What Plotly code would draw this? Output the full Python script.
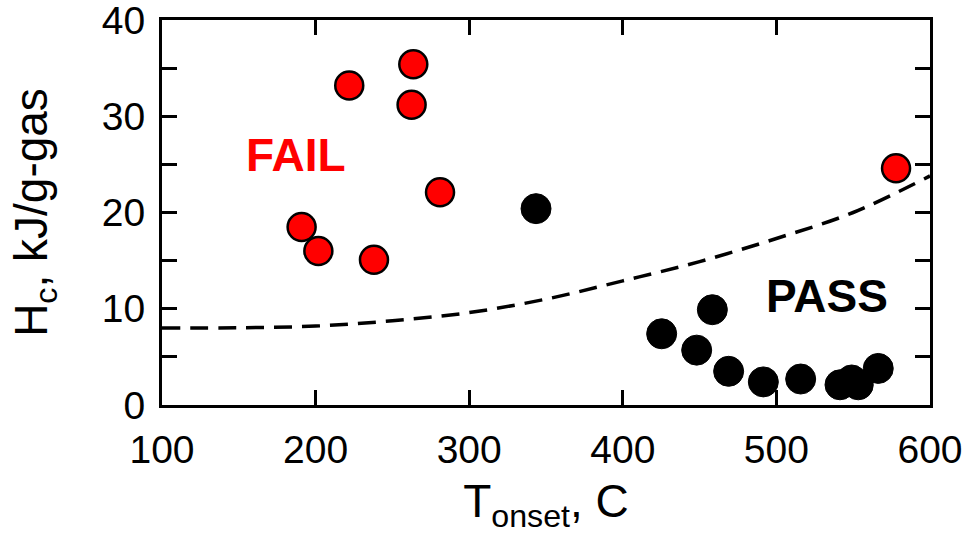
import plotly.graph_objects as go

# FAIL (red) points
fail_t = [190.9, 201.8, 238.0, 221.9, 263.6, 262.5, 281.0, 577.9]
fail_h = [18.5, 16.0, 15.1, 33.2, 35.4, 31.2, 22.1, 24.6]

# PASS (black) points
pass_t = [343.5, 425.3, 458.3, 448.1, 468.9, 491.5, 515.8, 541.4, 549.0, 553.3, 566.3]
pass_h = [20.4, 7.4, 9.9, 5.7, 3.5, 2.4, 2.7, 2.1, 2.6, 2.1, 3.8]

# dashed boundary curve
curve_t = [100, 150, 200, 250, 300, 350, 400, 450, 500, 550, 600]
curve_h = [8.0, 8.02, 8.2, 8.75, 9.6, 11.0, 12.9, 14.9, 17.3, 20.0, 23.8]

x_ticks = [100, 200, 300, 400, 500, 600]
y_ticks = [0, 10, 20, 30, 40]

FONT = "Arial, Liberation Sans, Helvetica, sans-serif"

fig = go.Figure()
fig.add_trace(go.Scatter(
    x=curve_t, y=curve_h, mode="lines",
    line=dict(color="black", width=3.5, dash="18px,10px", shape="spline"),
    hoverinfo="skip", showlegend=False))
fig.add_trace(go.Scatter(
    x=pass_t, y=pass_h, mode="markers",
    marker=dict(color="black", size=30, line=dict(color="black", width=1)),
    showlegend=False))
fig.add_trace(go.Scatter(
    x=fail_t, y=fail_h, mode="markers",
    marker=dict(color="#ff0000", size=28, line=dict(color="black", width=2.5)),
    showlegend=False))

fig.add_annotation(x=187, y=26.0, xref="x", yref="y", text="<b>FAIL</b>",
                   showarrow=False, font=dict(family=FONT, size=46, color="#ff0000"))
fig.add_annotation(x=532.7, y=11.35, xref="x", yref="y", text="<b>PASS</b>",
                   showarrow=False, font=dict(family=FONT, size=46, color="black"))

axis_common = dict(showline=True, linecolor="black", linewidth=3, mirror="ticks",
                   ticks="inside", ticklen=15, tickwidth=3, tickcolor="black",
                   showgrid=False, zeroline=False, ticklabeloverflow="allow",
                   tickfont=dict(family=FONT, size=39, color="black"))

fig.update_xaxes(range=[100, 600], tickvals=x_ticks,
                 title=dict(text="T<sub>onset</sub>, C", font=dict(family=FONT, size=46, color="black"),
                            standoff=16),
                 ticklabelstandoff=8, **axis_common)
fig.update_yaxes(range=[0, 40], tickvals=y_ticks,
                 minor=dict(dtick=5, tick0=0, ticks="inside", ticklen=15, tickwidth=3,
                            tickcolor="black", showgrid=False),
                 title=dict(text="H<sub>c</sub>, kJ/g-gas", font=dict(family=FONT, size=46, color="black"),
                            standoff=40),
                 ticklabelstandoff=6, **axis_common)

fig.update_layout(width=980, height=540, margin=dict(l=162, r=50, t=20, b=135, autoexpand=False),
                  plot_bgcolor="white", paper_bgcolor="white")

fig.write_html("out.html")
